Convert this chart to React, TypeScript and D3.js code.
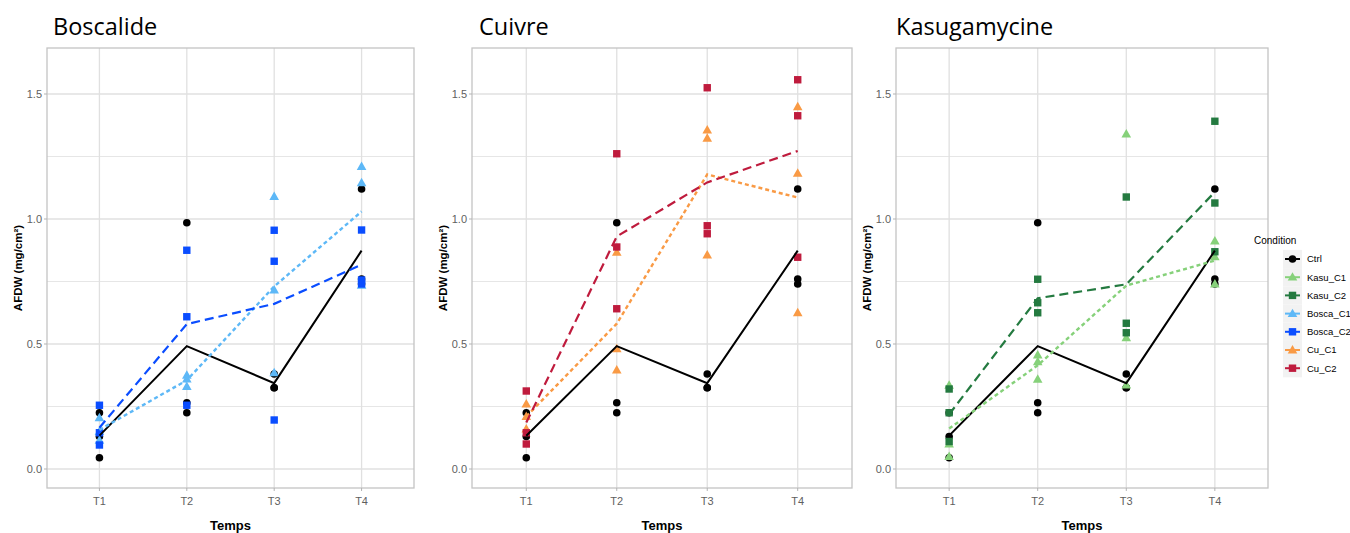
import React from "react";
import * as d3 from "d3";

const times = ["T1", "T2", "T3", "T4"];
const yTicks = [0, 0.5, 1.0, 1.5];
const yMinorTicks = [0.25, 0.75, 1.25];

// replicate values per time point (T1..T4)
const ctrlValues = [[0.225, 0.13, 0.045], [0.985, 0.265, 0.225], [0.38, 0.325, 0.325], [1.12, 0.76, 0.74]];
const boscaC1Values = [[0.205, 0.15, 0.115], [0.375, 0.36, 0.33], [1.09, 0.716, 0.385], [1.21, 1.145, 0.735]];
const boscaC2Values = [[0.255, 0.145, 0.096], [0.875, 0.609, 0.255], [0.955, 0.831, 0.196], [0.956, 0.756, 0.74]];
const cuC1Values = [[0.26, 0.21, 0.16], [0.867, 0.481, 0.396], [1.356, 1.323, 0.856], [1.449, 1.183, 0.625]];
const cuC2Values = [[0.312, 0.145, 0.1], [1.261, 0.888, 0.641], [1.525, 0.973, 0.941], [1.557, 1.413, 0.847]];
const kasuC1Values = [[0.335, 0.1, 0.05], [0.456, 0.429, 0.359], [1.34, 0.525, 0.336], [0.912, 0.849, 0.74]];
const kasuC2Values = [[0.32, 0.225, 0.11], [0.759, 0.665, 0.625], [1.088, 0.583, 0.545], [1.391, 1.064, 0.869]];

const conditionNames = ["Ctrl", "Kasu_C1", "Kasu_C2", "Bosca_C1", "Bosca_C2", "Cu_C1", "Cu_C2"];
const panelTitles = ["Boscalide", "Cuivre", "Kasugamycine"];

type Shape = "circle" | "triangle" | "square";
interface Series { name: string; values: number[][]; color: string; shape: Shape; dash: string | null; width: number; }

const styles: Record<string, { color: string; shape: Shape; dash: string | null; width: number }> = {
  Ctrl: { color: "#000000", shape: "circle", dash: null, width: 2 },
  Kasu_C1: { color: "#86D17A", shape: "triangle", dash: "4,3", width: 2.4 },
  Kasu_C2: { color: "#247A40", shape: "square", dash: "9,5", width: 2.2 },
  Bosca_C1: { color: "#5DB8F7", shape: "triangle", dash: "4,3", width: 2.4 },
  Bosca_C2: { color: "#0A4DFF", shape: "square", dash: "9,5", width: 2.2 },
  Cu_C1: { color: "#F99A45", shape: "triangle", dash: "4,3", width: 2.4 },
  Cu_C2: { color: "#BF1B3D", shape: "square", dash: "9,5", width: 2.2 },
};

const valuesByName: Record<string, number[][]> = {
  Ctrl: ctrlValues, Kasu_C1: kasuC1Values, Kasu_C2: kasuC2Values,
  Bosca_C1: boscaC1Values, Bosca_C2: boscaC2Values, Cu_C1: cuC1Values, Cu_C2: cuC2Values,
};

const panelSeries = [
  ["Ctrl", "Bosca_C1", "Bosca_C2"],
  ["Ctrl", "Cu_C1", "Cu_C2"],
  ["Ctrl", "Kasu_C1", "Kasu_C2"],
];

const panelBounds = [
  { left: 47, right: 414, titleX: 53 },
  { left: 472, right: 852, titleX: 479 },
  { left: 896, right: 1268, titleX: 896 },
];
const TOP = 48;
const BOTTOM = 488;

const y = d3.scaleLinear().domain([-0.076, 1.684]).range([BOTTOM, TOP]);

function Marker({ shape, cx, cy, color }: { shape: Shape; cx: number; cy: number; color: string }) {
  if (shape === "circle") return <circle cx={cx} cy={cy} r={3.8} fill={color} />;
  if (shape === "square") return <rect x={cx - 3.7} y={cy - 3.7} width={7.4} height={7.4} fill={color} />;
  const sym = d3.symbol().type(d3.symbolTriangle).size(40)();
  return <path d={sym || ""} transform={`translate(${cx},${cy + 0.6})`} fill={color} />;
}

function Panel({ idx }: { idx: number }) {
  const { left, right, titleX } = panelBounds[idx];
  const x = d3.scalePoint<string>().domain(times).range([left, right]).padding(0.6);
  const series: Series[] = panelSeries[idx].map((n) => ({ name: n, values: valuesByName[n], ...styles[n] }));
  const line = d3.line<[number, number]>().x((d) => d[0]).y((d) => d[1]);
  const font = "'Liberation Sans', Arial, sans-serif";
  const cx = (left + right) / 2;
  return (
    <g>
      <text x={titleX} y={35} fontFamily="'Open Sans', sans-serif" fontSize={23.5} fill="#000">{panelTitles[idx]}</text>
      <rect x={left} y={TOP} width={right - left} height={BOTTOM - TOP} fill="#fff" />
      {yMinorTicks.map((t) => (
        <line key={"m" + t} x1={left} x2={right} y1={y(t)} y2={y(t)} stroke="#E6E6E6" strokeWidth={1} />
      ))}
      {yTicks.map((t) => (
        <line key={"g" + t} x1={left} x2={right} y1={y(t)} y2={y(t)} stroke="#E0E0E0" strokeWidth={1.3} />
      ))}
      {times.map((t) => (
        <line key={"gx" + t} x1={x(t)} x2={x(t)} y1={TOP} y2={BOTTOM} stroke="#E0E0E0" strokeWidth={1.3} />
      ))}
      {series.map((s) => (
        <g key={"p" + s.name}>
          {s.values.map((reps, i) =>
            reps.map((v, j) => <Marker key={i + "-" + j} shape={s.shape} cx={x(times[i])!} cy={y(v)} color={s.color} />)
          )}
        </g>
      ))}
      {series.map((s) => (
        <path
          key={"l" + s.name}
          d={line(s.values.map((reps, i) => [x(times[i])!, y(d3.mean(reps)!)]))!}
          fill="none"
          stroke={s.color}
          strokeWidth={s.width}
          strokeDasharray={s.dash || undefined}
        />
      ))}
      <rect x={left} y={TOP} width={right - left} height={BOTTOM - TOP} fill="none" stroke="#C4C4C4" strokeWidth={1.3} />
      {yTicks.map((t) => (
        <g key={"yt" + t}>
          <line x1={left - 3} x2={left} y1={y(t)} y2={y(t)} stroke="#B3B3B3" strokeWidth={1} />
          <text x={left - 5} y={y(t)} dy="0.35em" textAnchor="end" fontFamily={font} fontSize={11} fill="#5f5f5f">
            {d3.format(".1f")(t)}
          </text>
        </g>
      ))}
      {times.map((t) => (
        <g key={"xt" + t}>
          <line x1={x(t)} x2={x(t)} y1={BOTTOM} y2={BOTTOM + 3} stroke="#B3B3B3" strokeWidth={1} />
          <text x={x(t)} y={505} textAnchor="middle" fontFamily={font} fontSize={11} fill="#5f5f5f">{t}</text>
        </g>
      ))}
      <text x={cx} y={530} textAnchor="middle" fontFamily={font} fontSize={13} fontWeight="bold" fill="#000">Temps</text>
      <text
        transform={`translate(${left - 25},${(TOP + BOTTOM) / 2}) rotate(-90)`}
        textAnchor="middle"
        fontFamily={font}
        fontSize={11.5}
        fontWeight="bold"
        fill="#000"
      >
        AFDW (mg/cm²)
      </text>
    </g>
  );
}

function Legend() {
  const font = "'Liberation Sans', Arial, sans-serif";
  const x0 = 1283;
  const y0 = 259;
  const step = 18.2;
  return (
    <g>
      <text x={1254} y={244} fontFamily={font} fontSize={10} fill="#000">Condition</text>
      {conditionNames.map((n, i) => {
        const s = styles[n];
        const cy = y0 + i * step;
        return (
          <g key={n}>
            <rect x={x0} y={cy - step / 2} width={19} height={step} fill="#F2F2F2" />
            <line x1={x0 + 2} x2={x0 + 17} y1={cy} y2={cy} stroke={s.color} strokeWidth={2} />
            <Marker shape={s.shape} cx={x0 + 9.5} cy={cy} color={s.color} />
            <text x={1307} y={cy} dy="0.35em" fontFamily={font} fontSize={9.5} fill="#000">{n}</text>
          </g>
        );
      })}
    </g>
  );
}

export default function App() {
  return (
    <svg width={1350} height={533} style={{ display: "block", position: "absolute", left: 0, top: 0 }}>
      <rect width={1350} height={533} fill="#fff" />
      {[0, 1, 2].map((i) => <Panel key={i} idx={i} />)}
      <Legend />
    </svg>
  );
}
